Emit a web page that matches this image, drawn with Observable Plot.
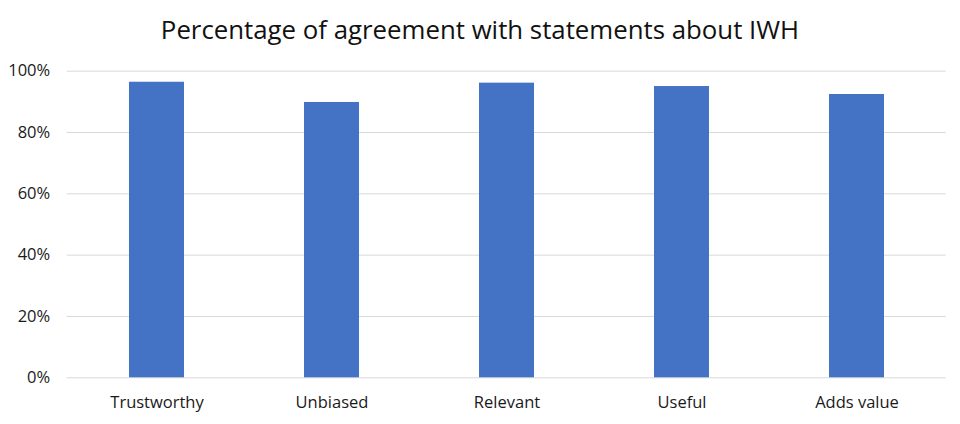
<!DOCTYPE html>
<html>
<head>
<meta charset="utf-8">
<script src="https://cdn.jsdelivr.net/npm/d3@7"></script>
<script src="https://cdn.jsdelivr.net/npm/@observablehq/plot@0.6"></script>
<style>
  html, body { margin: 0; padding: 0; background: #fff; }
  #title { width: 960px; height: 50px; box-sizing: border-box; padding-top: 12px; text-align: center;
           font-family: "Open Sans", sans-serif; font-size: 25.8px; color: #111; line-height: 34px; }
  #chart svg { display: block; }
</style>
</head>
<body>
<div id="title">Percentage of agreement with statements about IWH</div>
<div id="chart"></div>
<script>
const categories = ["Trustworthy", "Unbiased", "Relevant", "Useful", "Adds value"];
const values = [0.964, 0.898, 0.961, 0.950, 0.924];
const yTicks = [0, 0.2, 0.4, 0.6, 0.8, 1.0];

const data = categories.map((c, i) => ({category: c, value: values[i]}));

const chart = Plot.plot({
  width: 960,
  height: 374,
  marginTop: 20.7,
  marginBottom: 46.7,
  marginLeft: 66.7,
  marginRight: 14.3,
  style: {fontFamily: "'Open Sans', sans-serif", fontSize: "16px", color: "#1a1a1a", background: "#fff"},
  x: {domain: categories, paddingInner: 0.687, paddingOuter: 0.3435, label: null},
  y: {domain: [0, 1], label: null},
  marks: [
    Plot.gridY(yTicks, {stroke: "#d9d9d9", strokeOpacity: 1, strokeWidth: 1}),
    Plot.barY(data, {x: "category", y: "value", fill: "#4472C4"}),
    Plot.axisY(yTicks, {tickSize: 0, tickPadding: 17, tickFormat: d => Math.round(d * 100) + "%", fontSize: 16.5}),
    Plot.axisX({tickSize: 0, tickPadding: 18, fontSize: 16.5})
  ]
});
document.getElementById("chart").appendChild(chart);
</script>
</body>
</html>
